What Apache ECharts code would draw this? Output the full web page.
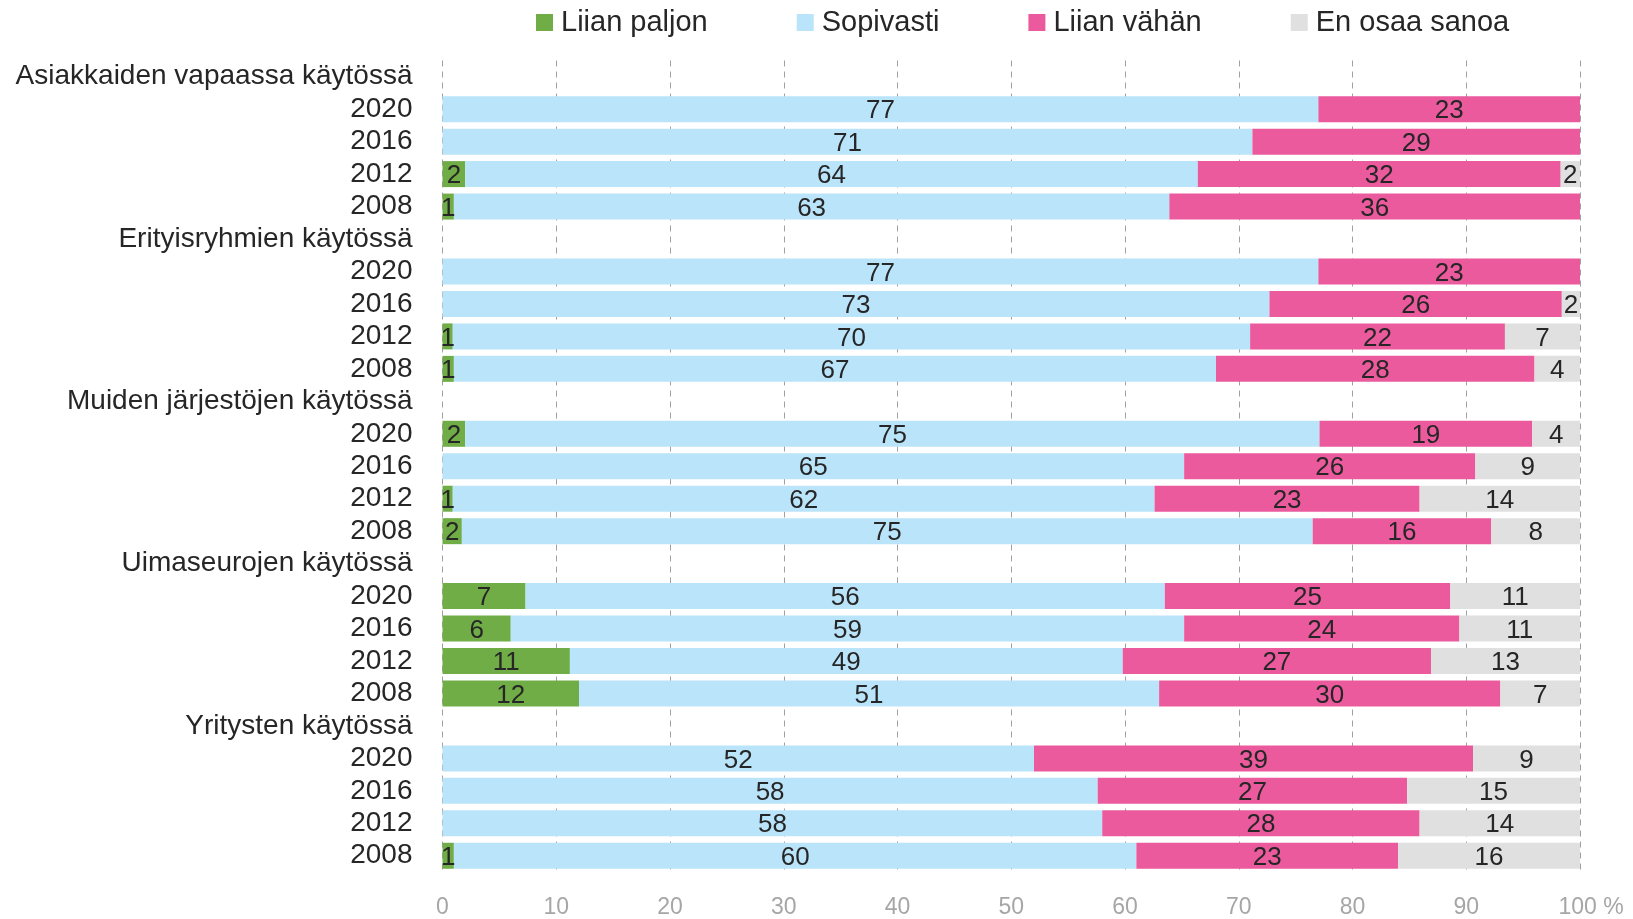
<!DOCTYPE html>
<html>
<head>
<meta charset="utf-8">
<script src="https://cdn.jsdelivr.net/npm/echarts@6/dist/echarts.min.js"></script>
<style>html,body{margin:0;padding:0;background:#fff}#c{width:1633px;height:919px}</style>
</head>
<body>
<div id="c"></div>
<script>
// Group headers and years (top to bottom)
const groups = ['Asiakkaiden vapaassa käytössä', 'Erityisryhmien käytössä', 'Muiden järjestöjen käytössä', 'Uimaseurojen käytössä', 'Yritysten käytössä'];
const years = ['2020', '2016', '2012', '2008'];
const seriesNames = ['Liian paljon', 'Sopivasti', 'Liian vähän', 'En osaa sanoa'];
const xTicks = [0, 10, 20, 30, 40, 50, 60, 70, 80, 90, 100];

// Values per group, in year order 2020, 2016, 2012, 2008
const liianPaljon = [
  0, 0, 2.0, 1.0,
  0, 0, 0.9, 1.0,
  2.0, 0, 0.9, 1.7,
  7.3, 6.0, 11.2, 12.0,
  0, 0, 0, 1.0
];
const sopivasti = [
  77.0, 71.2, 64.4, 62.9,
  77.0, 72.7, 70.1, 67.0,
  75.1, 65.2, 61.7, 74.8,
  56.2, 59.2, 48.6, 51.0,
  52.0, 57.6, 58.0, 60.0
];
const liianVahan = [
  23.0, 28.8, 31.9, 36.1,
  23.0, 25.7, 22.4, 28.0,
  18.7, 25.6, 23.3, 15.7,
  25.1, 24.2, 27.1, 30.0,
  38.6, 27.2, 27.9, 23.0
];
const enOsaa = [
  0, 0, 1.7, 0,
  0, 1.6, 6.6, 4.0,
  4.2, 9.2, 14.1, 7.8,
  11.4, 10.6, 13.1, 7.0,
  9.4, 15.2, 14.1, 16.0
];
const colors = ['#70AD47', '#BAE4FA', '#EB5A9C', '#E0E0E0'];

// Build category list with header rows (no bars)
const categories = [];
const expand = (arr) => {
  const out = [];
  groups.forEach((g, gi) => {
    out.push(null);
    years.forEach((y, yi) => out.push(arr[gi * years.length + yi]));
  });
  return out;
};
groups.forEach(g => { categories.push(g); years.forEach(y => categories.push(y)); });

const FONT = "'Liberation Sans', Arial, sans-serif";
const dataSets = [liianPaljon, sopivasti, liianVahan, enOsaa];

const series = dataSets.map((arr, i) => ({
  name: seriesNames[i],
  type: 'bar',
  stack: 'total',
  barWidth: 26,
  data: expand(arr),
  itemStyle: { color: colors[i] },
  label: {
    show: true,
    position: 'inside',
    color: '#262626',
    fontFamily: FONT,
    fontSize: 26,
    offset: [0, 2],
    formatter: p => (p.value && p.value > 0) ? String(Math.round(p.value)) : ''
  },
  emphasis: { disabled: true }
}));

const chart = echarts.init(document.getElementById('c'), null, { renderer: 'canvas' });
chart.setOption({
  animation: false,
  backgroundColor: '#fff',
  legend: {
    data: seriesNames,
    left: 531,
    top: 3,
    itemWidth: 17,
    itemHeight: 17,
    itemGap: 89,
    icon: 'rect',
    textStyle: { fontFamily: FONT, fontSize: 29, color: '#262626', padding: [0, 0, 0, 3] }
  },
  grid: { left: 442.5, right: 53, top: 60.5, bottom: 46, containLabel: false },
  xAxis: {
    type: 'value',
    min: 0, max: 100, interval: 10,
    axisLine: { show: false },
    axisTick: { show: false },
    splitLine: { show: true, lineStyle: { color: '#a0a0a0', type: [6, 5], width: 1 } },
    axisLabel: {
      color: '#a6a6a6', fontFamily: FONT, fontSize: 23, margin: 24,
      formatter: v => (v === xTicks[xTicks.length - 1]) ? '{s|}{v|' + v + ' %}' : '{v|' + v + '}',
      rich: { s: { width: 22 }, v: { color: '#a6a6a6', fontFamily: FONT, fontSize: 23 } }
    }
  },
  yAxis: {
    type: 'category',
    inverse: true,
    data: categories,
    axisLine: { show: false },
    axisTick: { show: false },
    axisLabel: { color: '#262626', fontFamily: FONT, fontSize: 28, margin: 30, interval: 0, padding: [4, 0, 0, 0] }
  },
  series: series
});
</script>
</body>
</html>
